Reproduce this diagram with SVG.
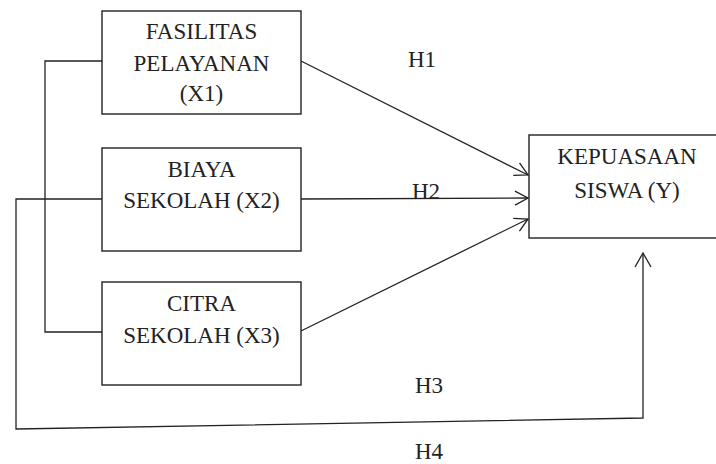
<svg xmlns="http://www.w3.org/2000/svg" width="716" height="464" viewBox="0 0 716 464">
<style>
.box{fill:#fff;stroke:#222;stroke-width:1.4}
.ln{fill:none;stroke:#222;stroke-width:1.3}
text{font-family:"Liberation Serif","Times New Roman",serif;font-size:23px;fill:#222;text-anchor:middle}
</style>
<defs>
<marker id="ah" markerUnits="userSpaceOnUse" markerWidth="20" markerHeight="20" refX="0" refY="0" viewBox="-16 -10 18 20" orient="auto" overflow="visible">
<path d="M-13,-7 L0,0 L-13,7" fill="none" stroke="#222" stroke-width="1.3"/>
</marker>
<marker id="ah2" markerUnits="userSpaceOnUse" markerWidth="20" markerHeight="20" refX="0" refY="0" viewBox="-16 -10 18 20" orient="auto" overflow="visible">
<path d="M-14,-8 L0,0 L-14,8" fill="none" stroke="#222" stroke-width="1.3"/>
</marker>
</defs>
<rect width="716" height="464" fill="#fff"/>
<g id="connectors">
<polyline class="ln" points="102,61 45,61 45,332 102,332"/>
<polyline class="ln" points="102,199 16,199 16,429 643,418 643,253" marker-end="url(#ah2)"/>
<line class="ln" x1="301" y1="61" x2="528" y2="175" marker-end="url(#ah)"/>
<line class="ln" x1="301" y1="199" x2="528" y2="198" marker-end="url(#ah)"/>
<line class="ln" x1="301" y1="331" x2="528" y2="219" marker-end="url(#ah)"/>
<text x="422" y="67">H1</text>
<text x="426" y="199">H2</text>
<text x="429" y="393">H3</text>
<text x="429" y="459">H4</text>
</g>
<g id="x1">
<rect class="box" x="102" y="11" width="199" height="103"/>
<text x="201.5" y="39">FASILITAS</text>
<text x="201.5" y="71">PELAYANAN</text>
<text x="201.5" y="101">(X1)</text>
</g>
<g id="x2">
<rect class="box" x="102" y="148" width="199" height="103"/>
<text x="201.5" y="177">BIAYA</text>
<text x="201.5" y="208">SEKOLAH (X2)</text>
</g>
<g id="x3">
<rect class="box" x="102" y="282" width="199" height="103"/>
<text x="201.5" y="311">CITRA</text>
<text x="201.5" y="343">SEKOLAH (X3)</text>
</g>
<g id="y">
<rect class="box" x="529" y="135" width="200" height="103"/>
<text x="627" y="164">KEPUASAAN</text>
<text x="627" y="198">SISWA (Y)</text>
</g>
</svg>
